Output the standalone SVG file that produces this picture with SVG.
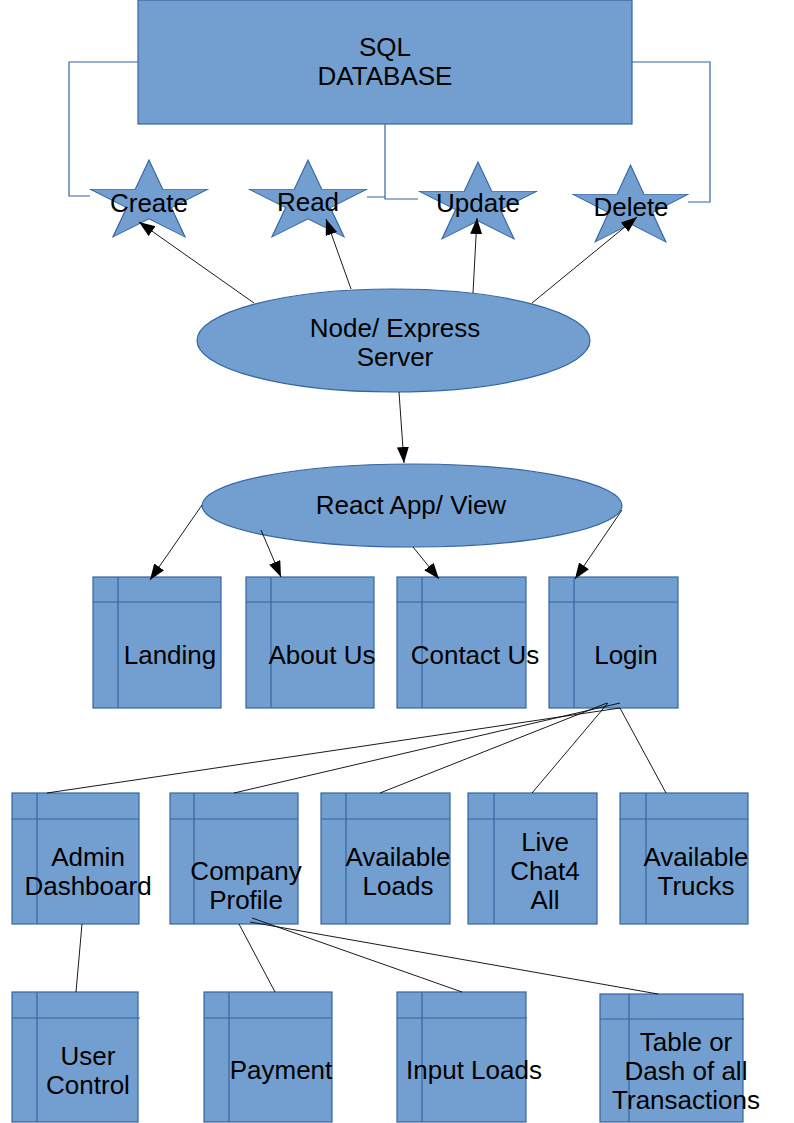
<svg xmlns="http://www.w3.org/2000/svg" width="794" height="1123" viewBox="0 0 794 1123">
<defs>
<style>
.shape{fill:#729fcf;stroke:#3465a4;stroke-width:1.2}
.inner{fill:none;stroke:#3465a4;stroke-width:1.2}
.lbl{font-family:"Liberation Sans",Arial,sans-serif;font-size:26px;fill:#000;text-anchor:middle}
.arrow{fill:none;stroke:#000;stroke-width:0.9;marker-end:url(#ah)}
.plain{fill:none;stroke:#000;stroke-width:0.9}
.db{fill:none;stroke:#3465a4;stroke-width:1.2}
</style>
<marker id="ah" markerUnits="userSpaceOnUse" markerWidth="18" markerHeight="14" refX="16" refY="6" orient="auto">
<path d="M0,0 L16,6 L0,12 z" fill="#000"/>
</marker>
<polygon id="star" points="0,-61.5 13.8,-19 58.5,-19 22.35,7.26 36.1,49.75 0,23.5 -36.1,49.75 -22.35,7.26 -58.5,-19 -13.8,-19"/>
</defs>
<rect width="794" height="1123" fill="#fff"/>

<g id="sql-database">
<rect class="shape" x="138" y="0" width="494" height="124"/>
<text class="lbl" x="385" y="56">SQL</text>
<text class="lbl" x="385" y="85">DATABASE</text>
</g>

<g id="star-create">
<use href="#star" class="shape" transform="translate(149,202.6) scale(1,0.692)" style="vector-effect:non-scaling-stroke"/>
<text class="lbl" x="149" y="212">Create</text>
</g>
<g id="star-read">
<use href="#star" class="shape" transform="translate(308,202.6) scale(1,0.692)" style="vector-effect:non-scaling-stroke"/>
<text class="lbl" x="308" y="211">Read</text>
</g>
<g id="star-update">
<use href="#star" class="shape" transform="translate(478,204.6) scale(1,0.692)" style="vector-effect:non-scaling-stroke"/>
<text class="lbl" x="478" y="212">Update</text>
</g>
<g id="star-delete">
<use href="#star" class="shape" transform="translate(630.5,207.6) scale(0.98,0.692)" style="vector-effect:non-scaling-stroke"/>
<text class="lbl" x="631" y="216">Delete</text>
</g>

<g id="node-express">
<ellipse class="shape" cx="393.5" cy="340.5" rx="196.5" ry="51.5"/>
<text class="lbl" x="395" y="337">Node/ Express</text>
<text class="lbl" x="395" y="366">Server</text>
</g>

<g id="react-app">
<ellipse class="shape" cx="412" cy="505.5" rx="210" ry="41.5"/>
<text class="lbl" x="411" y="514">React App/ View</text>
</g>

<g id="landing">
<rect class="shape" x="93" y="577" width="128" height="131"/>
<path class="inner" d="M93,602 H221 M118,577 V708"/>
<text class="lbl" x="170" y="664">Landing</text>
</g>
<g id="about-us">
<rect class="shape" x="246" y="577" width="128" height="131"/>
<path class="inner" d="M246,602 H374 M271,577 V708"/>
<text class="lbl" x="322" y="664">About Us</text>
</g>
<g id="contact-us">
<rect class="shape" x="397" y="577" width="129" height="131"/>
<path class="inner" d="M397,602 H526 M422,577 V708"/>
<text class="lbl" x="475" y="664">Contact Us</text>
</g>
<g id="login">
<rect class="shape" x="549" y="577" width="129" height="131"/>
<path class="inner" d="M549,602 H678 M574,577 V708"/>
<text class="lbl" x="626" y="664">Login</text>
</g>

<g id="admin-dashboard">
<rect class="shape" x="12" y="793" width="127" height="131"/>
<path class="inner" d="M12,819 H139 M37,793 V924"/>
<text class="lbl" x="88" y="866">Admin</text>
<text class="lbl" x="88" y="895">Dashboard</text>
</g>
<g id="company-profile">
<rect class="shape" x="170" y="793" width="128" height="131"/>
<path class="inner" d="M170,819 H298 M194,793 V924"/>
<text class="lbl" x="246" y="880">Company</text>
<text class="lbl" x="246" y="909">Profile</text>
</g>
<g id="available-loads">
<rect class="shape" x="321" y="793" width="129" height="131"/>
<path class="inner" d="M321,819 H450 M346,793 V924"/>
<text class="lbl" x="398" y="866">Available</text>
<text class="lbl" x="398" y="895">Loads</text>
</g>
<g id="live-chat">
<rect class="shape" x="468" y="793" width="129" height="131"/>
<path class="inner" d="M468,819 H597 M494,793 V924"/>
<text class="lbl" x="545" y="851">Live</text>
<text class="lbl" x="545" y="880">Chat4</text>
<text class="lbl" x="545" y="909">All</text>
</g>
<g id="available-trucks">
<rect class="shape" x="620" y="793" width="128" height="131"/>
<path class="inner" d="M620,819 H748 M646,793 V924"/>
<text class="lbl" x="696" y="866">Available</text>
<text class="lbl" x="696" y="895">Trucks</text>
</g>

<g id="user-control">
<rect class="shape" x="12" y="992" width="126" height="130"/>
<path class="inner" d="M12,1018 H140 M37,992 V1122"/>
<text class="lbl" x="88" y="1065">User</text>
<text class="lbl" x="88" y="1094">Control</text>
</g>
<g id="payment">
<rect class="shape" x="204" y="992" width="128" height="130"/>
<path class="inner" d="M204,1018 H332 M229,992 V1122"/>
<text class="lbl" x="281" y="1079">Payment</text>
</g>
<g id="input-loads">
<rect class="shape" x="397" y="992" width="129" height="130"/>
<path class="inner" d="M397,1018 H527 M422,992 V1122"/>
<text class="lbl" x="474" y="1079">Input Loads</text>
</g>
<g id="transactions">
<rect class="shape" x="600" y="994" width="143" height="128"/>
<path class="inner" d="M600,1019 H744 M629,994 V1122"/>
<text class="lbl" x="686" y="1051">Table or</text>
<text class="lbl" x="686" y="1080">Dash of all</text>
<text class="lbl" x="686" y="1109">Transactions</text>
</g>

<g id="connectors">
<path class="db" d="M138,62 H69 V196 H90"/>
<path class="db" d="M632,62 H710 V202 H688"/>
<path class="db" d="M367,197 H385 M385,124 V199 H418"/>
<line class="arrow" x1="254" y1="303" x2="139" y2="222"/>
<line class="arrow" x1="351" y1="289" x2="326" y2="219"/>
<line class="arrow" x1="473" y1="293" x2="477" y2="218"/>
<line class="arrow" x1="532" y1="303" x2="637" y2="217"/>
<line class="arrow" x1="399" y1="392" x2="404" y2="463"/>
<line class="arrow" x1="202" y1="505" x2="150" y2="580"/>
<line class="arrow" x1="261" y1="530" x2="281" y2="577"/>
<line class="arrow" x1="413" y1="547" x2="439" y2="579"/>
<line class="arrow" x1="622" y1="510" x2="575" y2="579"/>
<line class="plain" x1="47" y1="793" x2="620" y2="708"/>
<line class="plain" x1="234" y1="793" x2="620" y2="703"/>
<line class="plain" x1="380" y1="793" x2="607" y2="703"/>
<line class="plain" x1="532" y1="793" x2="608" y2="703"/>
<line class="plain" x1="666" y1="793" x2="620" y2="708"/>
<line class="plain" x1="82" y1="924" x2="76" y2="992"/>
<line class="plain" x1="239" y1="924" x2="275" y2="992"/>
<line class="plain" x1="252" y1="918" x2="462" y2="992"/>
<line class="plain" x1="250" y1="922" x2="658" y2="994"/>
</g>
</svg>
